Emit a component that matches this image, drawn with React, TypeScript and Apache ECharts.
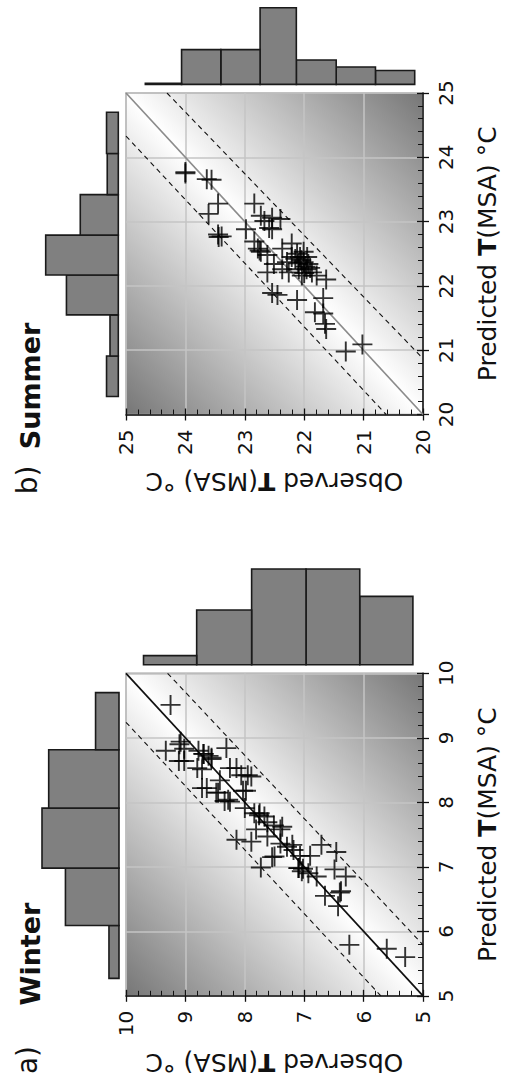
import React, { useEffect, useRef } from "react";
import * as echarts from "echarts";

// ---------- data: [observed, predicted] ----------
const winterPoints: [number, number][] = [
  [9.25, 9.51], [9.33, 8.8], [9.08, 8.94], [9.02, 8.83], [9.11, 8.64], [9.02, 8.64],
  [8.78, 8.8], [8.69, 8.75], [8.61, 8.72], [8.56, 8.67], [8.31, 8.84], [8.8, 8.53],
  [8.72, 8.51], [8.42, 8.34], [8.14, 8.53], [8.06, 8.42], [7.89, 8.4], [8.72, 8.22],
  [8.64, 8.22], [8.45, 8.15], [8.28, 8.04], [8.34, 8.02], [8.03, 8.18], [7.98, 8.18],
  [8.0, 7.91], [7.84, 7.83], [7.76, 7.8], [8.14, 7.42], [7.89, 7.39], [7.81, 7.58],
  [7.62, 7.69], [7.51, 7.64], [7.4, 7.58], [7.62, 7.47], [7.4, 7.36], [7.29, 7.31],
  [7.18, 7.26], [7.07, 7.17], [7.54, 7.15], [7.73, 6.99], [7.1, 6.98], [7.04, 6.93],
  [6.93, 6.9], [6.9, 7.17], [6.71, 7.34], [6.46, 7.23], [6.49, 6.96], [6.79, 6.85],
  [6.3, 6.85], [6.65, 6.55], [6.4, 6.6], [6.43, 6.39], [6.24, 5.79], [5.61, 5.73],
  [5.3, 5.6], [8.56, 8.69], [8.25, 8.53], [7.95, 8.42], [8.48, 8.15], [8.25, 8.01],
  [7.75, 7.83], [7.67, 7.78], [7.37, 7.62], [7.2, 7.34], [7.5, 7.16], [7.09, 6.98],
  [7.02, 6.97], [6.38, 6.62], [8.7, 8.75], [9.1, 8.9],
];

const summerPoints: [number, number][] = [
  [24.0, 23.77], [23.64, 23.66], [23.56, 23.65], [23.45, 23.28], [23.61, 23.12],
  [23.45, 22.8], [23.39, 22.77], [22.84, 23.28], [22.73, 23.09], [22.67, 23.01],
  [22.54, 23.06], [22.4, 23.04], [22.59, 22.9], [22.54, 22.88], [22.98, 22.88],
  [22.84, 22.69], [22.78, 22.58], [22.73, 22.53], [22.62, 22.48], [22.51, 22.34],
  [22.62, 22.21], [22.37, 22.58], [22.21, 22.66], [22.21, 22.45], [22.12, 22.5],
  [22.07, 22.45], [22.01, 22.37], [21.96, 22.26], [22.09, 22.26], [21.87, 22.21],
  [21.79, 22.16], [21.63, 22.1], [22.29, 22.37], [22.37, 22.26], [22.04, 22.16],
  [22.45, 21.86], [22.54, 21.89], [22.12, 21.78], [21.68, 21.81], [21.82, 21.59],
  [21.68, 21.57], [21.65, 21.41], [21.63, 21.33], [21.3, 20.98], [21.02, 21.09],
  [22.01, 22.53], [21.93, 22.34], [22.26, 22.21], [22.05, 22.4], [21.98, 22.3],
  [22.1, 22.35], [21.9, 22.28], [22.15, 22.42], [22.0, 22.2], [21.95, 22.45],
  [22.75, 22.55], [24.0, 23.75], [23.44, 22.76],
];

// reference lines: [observed, predicted]
const winterOneToOne = [[5, 5], [10, 10]];
const winterUpperBand = [[9.3, 10], [5, 5.79]];
const winterLowerBand = [[10, 9.24], [5.71, 5]];
const summerOneToOne = [[20, 20], [25, 25]];
const summerUpperBand = [[24.31, 25], [20, 20.87]];
const summerLowerBand = [[25, 24.33], [20.62, 20]];

// histograms: [binLow, binHigh, height]
const winterPredictedHist = [
  [5.27, 6.09, 3], [6.09, 6.98, 16], [6.98, 7.91, 23], [7.91, 8.815, 21], [8.815, 9.7, 7],
];
const winterObservedHist = [
  [5.25, 6.13, 15], [6.13, 7.02, 21], [7.02, 7.92, 21], [7.92, 8.83, 12], [8.83, 9.71, 2],
];
const summerPredictedHist = [
  [20.28, 20.91, 3.4], [20.91, 21.55, 2.4], [21.55, 22.17, 15], [22.17, 22.79, 21],
  [22.79, 23.42, 11], [23.42, 24.06, 3.2], [24.06, 24.7, 3.4],
];
const summerObservedHist = [
  [20.22, 20.87, 4], [20.87, 21.52, 5], [21.52, 22.18, 7], [22.18, 22.78, 22],
  [22.78, 23.43, 10], [23.43, 24.08, 10], [24.08, 24.68, 0.3],
];

const winterRange = [5, 10];
const summerRange = [20, 25];
const observedName = "{r|Observed }{b|T}{r|(MSA) °C}";
const predictedName = "{r|Predicted }{b|T}{r|(MSA) °C}";

const FONT = "DejaVu Sans";
const INK = "#111";
const NAME_SIZE = 25;

const nameStyle = {
  fontFamily: FONT,
  fontSize: NAME_SIZE,
  color: INK,
  rich: {
    r: { fontFamily: FONT, fontSize: NAME_SIZE, color: INK },
    b: { fontFamily: FONT, fontSize: NAME_SIZE, color: INK, fontWeight: "bold" },
  },
};

function mainAxes(dim: "x" | "y", gridIndex: number, range: number[], name: string) {
  const isX = dim === "x";
  const common = {
    type: "value",
    gridIndex,
    min: range[0],
    max: range[1],
    interval: 1,
    inverse: isX,
    position: isX ? "bottom" : "right",
  };
  return [
    {
      ...common,
      axisLine: { show: true, onZero: false, lineStyle: { color: INK, width: 1.5 } },
      axisTick: { show: true, inside: true, length: 6, lineStyle: { color: INK, width: 1.3 } },
      minorTick: { show: true, splitNumber: 5, length: 5, lineStyle: { color: INK, width: 1 } },
      axisLabel: { rotate: 90, margin: isX ? 15 : 13, fontSize: 20, color: INK, fontFamily: FONT },
      splitLine: { show: true, lineStyle: { color: "#c4c4c4", width: 1.5 } },
      minorSplitLine: { show: false },
      name,
      nameLocation: "middle",
      nameRotate: isX ? 180 : 90,
      nameGap: isX ? 54 : 52,
      nameTextStyle: nameStyle,
    },
    {
      ...common,
      axisLine: { show: false, onZero: false },
      axisTick: { show: true, inside: false, length: 6, lineStyle: { color: INK, width: 1.3 } },
      axisLabel: { show: false },
      splitLine: { show: false },
    },
  ];
}

function hiddenAxis(gridIndex: number, min: number, max: number, inverse = false) {
  return { type: "value", gridIndex, min, max, inverse, show: false, splitLine: { show: false } };
}

const barStyle = { fill: "#808080", stroke: "#1a1a1a", lineWidth: 1.6 };

function leftBar(params: any, api: any) {
  const lo = api.value(0), hi = api.value(1), v = api.value(2);
  const p1 = api.coord([v, hi]);
  const p2 = api.coord([0, lo]);
  return {
    type: "rect",
    shape: {
      x: Math.min(p1[0], p2[0]),
      y: Math.min(p1[1], p2[1]),
      width: Math.abs(p1[0] - p2[0]),
      height: Math.abs(p1[1] - p2[1]),
    },
    style: barStyle,
  };
}

function topBar(params: any, api: any) {
  const lo = api.value(0), hi = api.value(1), v = api.value(2);
  const p1 = api.coord([hi, v]);
  const p2 = api.coord([lo, 0]);
  return {
    type: "rect",
    shape: {
      x: Math.min(p1[0], p2[0]),
      y: Math.min(p1[1], p2[1]),
      width: Math.abs(p1[0] - p2[0]),
      height: Math.abs(p1[1] - p2[1]),
    },
    style: barStyle,
  };
}

function bg() {
  return new echarts.graphic.LinearGradient(0, 1, 1, 0, [
    { offset: 0, color: "#767676" },
    { offset: 0.5, color: "#ffffff" },
    { offset: 1, color: "#767676" },
  ]);
}

const crossSymbol = "path://M10,0L10,20M0,10L20,10";

function panelSeries(
  base: number,
  points: number[][],
  oneToOne: number[][],
  upper: number[][],
  lower: number[][],
  diagColor: string,
  predHist: number[][],
  obsHist: number[][]
) {
  const xi = base, yi = base;
  const line = (data: number[][], color: string, type: any, width: number) => ({
    type: "line",
    xAxisIndex: xi,
    yAxisIndex: yi,
    data,
    symbol: "none",
    silent: true,
    clip: true,
    lineStyle: { color, width, type },
    z: 3,
  });
  return [
    line(oneToOne, diagColor, "solid", 1.7),
    line(upper, "#111", [5, 4], 1.1),
    line(lower, "#111", [5, 4], 1.1),
    {
      type: "scatter",
      xAxisIndex: xi,
      yAxisIndex: yi,
      data: points,
      symbol: crossSymbol,
      symbolSize: 20,
      itemStyle: { color: "rgba(0,0,0,0)", borderColor: "#000", borderWidth: 1.9 },
      z: 4,
    },
    {
      type: "custom",
      xAxisIndex: base + 2,
      yAxisIndex: base + 2,
      data: predHist,
      renderItem: leftBar,
    },
    {
      type: "custom",
      xAxisIndex: base + 3,
      yAxisIndex: base + 3,
      data: obsHist,
      renderItem: topBar,
    },
  ];
}

export default function App() {
  const ref = useRef<HTMLDivElement>(null);
  useEffect(() => {
    if (!ref.current) return;
    const chart = echarts.init(ref.current, null, { renderer: "svg" });
    const wTop = 673.3, wH = 322.5;
    const sTop = 93, sH = 321.5;
    const option: any = {
      animation: false,
      backgroundColor: "#ffffff",
      grid: [
        { left: 126, top: wTop, width: 302, height: wH, show: true, backgroundColor: bg(), borderColor: "#a0a0a0", borderWidth: 1.5 },
        { left: 42, top: wTop, width: 77, height: wH },
        { left: 126, top: 569, width: 302, height: 95.7 },
        { left: 126, top: sTop, width: 302, height: sH, show: true, backgroundColor: bg(), borderColor: "#a0a0a0", borderWidth: 1.5 },
        { left: 45.7, top: sTop, width: 72.6, height: sH },
        { left: 126, top: 7.8, width: 302, height: 76.6 },
      ],
      xAxis: [
        ...mainAxes("x", 0, winterRange, observedName),
        hiddenAxis(1, 0, 23, true),
        hiddenAxis(2, winterRange[0], winterRange[1], true),
        ...mainAxes("x", 3, summerRange, observedName),
        hiddenAxis(4, 0, 21, true),
        hiddenAxis(5, summerRange[0], summerRange[1], true),
      ],
      yAxis: [
        ...mainAxes("y", 0, winterRange, predictedName),
        hiddenAxis(1, winterRange[0], winterRange[1]),
        hiddenAxis(2, 0, 21),
        ...mainAxes("y", 3, summerRange, predictedName),
        hiddenAxis(4, summerRange[0], summerRange[1]),
        hiddenAxis(5, 0, 22),
      ],
      series: [
        ...panelSeries(0, winterPoints, winterOneToOne, winterUpperBand, winterLowerBand, "#111", winterPredictedHist, winterObservedHist),
        ...panelSeries(4, summerPoints, summerOneToOne, summerUpperBand, summerLowerBand, "#8c8c8c", summerPredictedHist, summerObservedHist),
      ],
      graphic: [
        { type: "text", x: 27, y: 1060, rotation: Math.PI / 2, style: { text: "a)", fontFamily: FONT, fontSize: 28, fill: INK, align: "center", verticalAlign: "middle" } },
        { type: "text", x: 30, y: 954, rotation: Math.PI / 2, style: { text: "Winter", fontFamily: FONT, fontSize: 27, fontWeight: "bold", fill: INK, align: "center", verticalAlign: "middle" } },
        { type: "text", x: 27, y: 480, rotation: Math.PI / 2, style: { text: "b)", fontFamily: FONT, fontSize: 28, fill: INK, align: "center", verticalAlign: "middle" } },
        { type: "text", x: 30, y: 386, rotation: Math.PI / 2, style: { text: "Summer", fontFamily: FONT, fontSize: 27, fontWeight: "bold", fill: INK, align: "center", verticalAlign: "middle" } },
      ],
    };
    chart.setOption(option);
    return () => chart.dispose();
  }, []);
  return (
    <div
      ref={ref}
      style={{ position: "absolute", left: 0, top: 0, width: 508, height: 1086, background: "#fff" }}
    />
  );
}
